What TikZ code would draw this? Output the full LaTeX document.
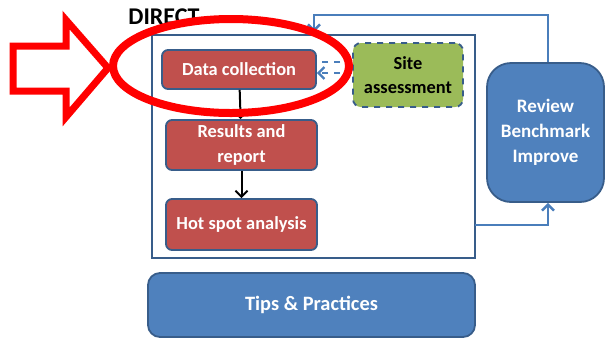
\documentclass[tikz,border=0pt]{standalone}
\usepackage{fontspec}
\setmainfont{Carlito}
\usetikzlibrary{positioning,calc,arrows.meta}
\definecolor{boxred}{HTML}{C0504D}
\definecolor{boxgreen}{HTML}{9BBB59}
\definecolor{boxblue}{HTML}{4F81BD}
\definecolor{edgeblue}{HTML}{385D8A}
\definecolor{linkblue}{HTML}{4A7EBB}

\begin{document}
\begin{tikzpicture}[x=0.5pt, y=-0.5pt,
    every node/.style={font=\fontsize{9.2}{12.3}\selectfont\bfseries, align=center, inner sep=0pt},
    redbox/.style={draw=edgeblue, line width=0.9pt, fill=boxred, text=white, rounded corners=3pt},
    bluebox/.style={draw=edgeblue, line width=0.9pt, fill=boxblue, text=white},
    sitebox/.style={draw=edgeblue, dashed, line width=0.9pt, fill=boxgreen, text=black, rounded corners=4pt},
    flow/.style={-{Straight Barb[length=3pt,width=6pt]}, black, line width=1pt},
    feedback/.style={-{Straight Barb[length=3pt,width=6pt]}, linkblue, line width=1.2pt},
    sitelink/.style={linkblue, dashed, line width=1.1pt}]
    \useasboundingbox (0,0) rectangle (605,339);

    % Frame round the DIRECT steps
    \node[draw=edgeblue, line width=0.8pt, minimum width=161.5pt, minimum height=111.5pt] (frame) at (313.5,146.5) {};
    \node[font=\fontsize{12}{14}\selectfont\bfseries] (direct) at (164,17) {DIRECT};

    % Steps
    \node[redbox, minimum width=77pt, minimum height=19.5pt] (datacol) at (239,69.5) {Data collection};
    \node[redbox, minimum width=75.5pt, minimum height=25pt] (results) at (241.5,145) {Results and\\report};
    \node[redbox, minimum width=75.5pt, minimum height=25.5pt] (hotspot) at (241.5,224.5) {Hot spot analysis};
    \draw[flow] (datacol) -- (results);
    \draw[flow] (results) -- (hotspot);

    % Site assessment
    \node[sitebox, minimum width=55pt, minimum height=32pt] (site) at (408,75) {Site\\assessment};
    \draw[sitelink] ([yshift=6.5pt]site.west) -- ([yshift=6.5pt]site.west -| datacol.east);
    \draw[sitelink, -{Straight Barb[length=3pt,width=6pt]}] ([yshift=1pt]site.west) -- ([yshift=1pt]site.west -| datacol.east);

    % Review loop
    \node[bluebox, rounded corners=12pt, minimum width=58.5pt, minimum height=69.5pt, font=\fontsize{9.5}{12.5}\selectfont\bfseries] (review) at (545.5,132.5) {Review\\Benchmark\\Improve};
    \coordinate (fbin) at (314,32);
    \coordinate (fbout) at (475,225);
    \draw[feedback] ([xshift=1.25pt]review.north) -- ++(0,-47) -| (fbin);
    \draw[feedback] (fbout) -| ([xshift=1.25pt]review.south);

    % Tips
    \node[bluebox, rounded corners=6pt, minimum width=163.5pt, minimum height=32pt, font=\fontsize{10.2}{12}\selectfont\bfseries] (tips) at (311.5,305) {Tips \& Practices};

    % Red highlight
    \draw[red, line width=3.5pt, line join=miter] (13,46) -- (66,46) -- (66,20) -- (108,68) -- (66,117) -- (66,91) -- (13,91) -- cycle;
    \draw[red, line width=4pt] (231,66) ellipse [x radius=118, y radius=47];
\end{tikzpicture}
\end{document}
